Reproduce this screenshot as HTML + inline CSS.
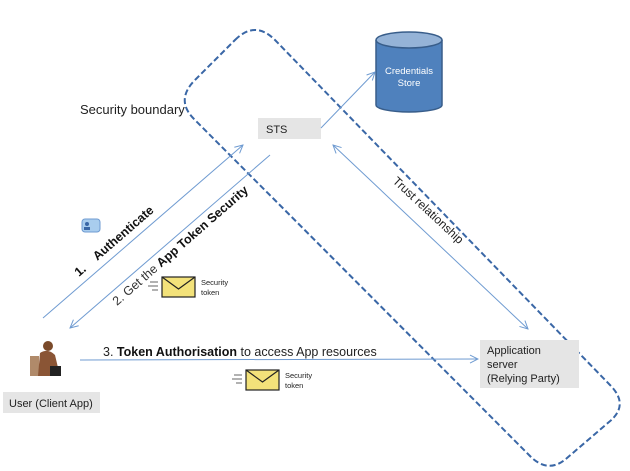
<!DOCTYPE html>
<html><head><style>
html,body{margin:0;padding:0;background:#fff;}
svg{display:block;font-family:"Liberation Sans",sans-serif;}
</style></head><body>
<svg width="630" height="471" viewBox="0 0 630 471" xmlns="http://www.w3.org/2000/svg">
<defs>
<marker id="a" markerWidth="10" markerHeight="10" refX="9" refY="5" orient="auto" markerUnits="userSpaceOnUse">
<path d="M1,1 L9,5 L1,9" fill="none" stroke="#6f9bd1" stroke-width="1"/></marker>
<marker id="as" markerWidth="10" markerHeight="10" refX="1" refY="5" orient="auto" markerUnits="userSpaceOnUse">
<path d="M9,1 L1,5 L9,9" fill="none" stroke="#6f9bd1" stroke-width="1"/></marker>
</defs>
<!-- security boundary -->
<path d="M235,40 Q255,20 275,40 L610,385 Q630,405 609,422 L567,458 Q548,475 529,455 L194,119 Q175,100 195,80 Z" fill="none" stroke="#3a67a6" stroke-width="2" stroke-dasharray="6,3"/>
<text x="80" y="114" font-size="13" fill="#222">Security boundary</text>
<!-- STS -->
<rect x="258" y="118" width="63" height="21" fill="#e5e5e5"/>
<text x="266" y="133" font-size="11" fill="#222">STS</text>
<!-- cylinder -->
<path d="M376,40 L376,105 A33,7 0 0 0 442,105 L442,40" fill="#4f81bd" stroke="#385d8a" stroke-width="1.5"/>
<ellipse cx="409" cy="40" rx="33" ry="8" fill="#95b3d7" stroke="#385d8a" stroke-width="1.5"/>
<text x="409" y="74" font-size="9.5" fill="#fff" text-anchor="middle">Credentials</text>
<text x="409" y="86" font-size="9.5" fill="#fff" text-anchor="middle">Store</text>
<!-- arrows -->
<line x1="321" y1="128" x2="375" y2="72" stroke="#6f9bd1" stroke-width="1" marker-end="url(#a)"/>
<line x1="43" y1="318" x2="243" y2="145" stroke="#6f9bd1" stroke-width="1" marker-end="url(#a)"/>
<line x1="270" y1="155" x2="70" y2="328" stroke="#6f9bd1" stroke-width="1" marker-end="url(#a)"/>
<line x1="333" y1="145" x2="528" y2="329" stroke="#6f9bd1" stroke-width="1" marker-start="url(#as)" marker-end="url(#a)"/>
<line x1="80" y1="360" x2="478" y2="359" stroke="#6f9bd1" stroke-width="1" marker-end="url(#a)"/>
<!-- rotated labels -->
<text transform="translate(79,277) rotate(-41)" font-size="12.5" font-weight="bold" fill="#111">1.&#160;&#160;&#160;&#160;Authenticate</text>
<text transform="translate(117,306) rotate(-41)" font-size="12.5" fill="#333">2. Get the <tspan font-weight="bold" fill="#111">App Token Security</tspan></text>
<text transform="translate(392,182) rotate(43)" font-size="12" fill="#222">Trust relationship</text>
<!-- id card icon -->
<rect x="82" y="219" width="18" height="13" rx="3" fill="#a9cdee" stroke="#6f9bd1"/>
<circle cx="87" cy="224" r="2" fill="#3a67a6"/>
<rect x="84" y="227" width="6" height="3" fill="#3a67a6"/>
<!-- envelopes -->
<g transform="translate(162,277)">
<rect x="0" y="0" width="33" height="20" fill="#f3e27a" stroke="#222" stroke-width="1.2"/>
<path d="M0,0 L16.5,12 L33,0" fill="none" stroke="#222" stroke-width="1.2"/>
<line x1="-12" y1="5" x2="-4" y2="5" stroke="#666"/><line x1="-14" y1="9" x2="-4" y2="9" stroke="#666"/><line x1="-10" y1="13" x2="-4" y2="13" stroke="#666"/>
<text x="39" y="8" font-size="7.5" fill="#222">Security</text><text x="39" y="18" font-size="7.5" fill="#222">token</text>
</g>
<g transform="translate(246,370)">
<rect x="0" y="0" width="33" height="20" fill="#f3e27a" stroke="#222" stroke-width="1.2"/>
<path d="M0,0 L16.5,12 L33,0" fill="none" stroke="#222" stroke-width="1.2"/>
<line x1="-12" y1="5" x2="-4" y2="5" stroke="#666"/><line x1="-14" y1="9" x2="-4" y2="9" stroke="#666"/><line x1="-10" y1="13" x2="-4" y2="13" stroke="#666"/>
<text x="39" y="8" font-size="7.5" fill="#222">Security</text><text x="39" y="18" font-size="7.5" fill="#222">token</text>
</g>
<text x="103" y="356" font-size="12.5" fill="#222">3. <tspan font-weight="bold" fill="#111">Token Authorisation</tspan> to access App resources</text>
<!-- app server -->
<rect x="480" y="340" width="99" height="48" fill="#e5e5e5"/>
<text x="487" y="354" font-size="11" fill="#222">Application</text>
<text x="487" y="368" font-size="11" fill="#222">server</text>
<text x="487" y="382" font-size="11" fill="#222">(Relying Party)</text>
<!-- user -->
<g>
<rect x="30" y="356" width="9" height="20" fill="#b08a6a"/>
<circle cx="48" cy="346" r="5" fill="#7a4a2a"/>
<path d="M40,353 Q48,348 55,355 L60,376 L38,376 Z" fill="#8a5535"/>
<rect x="50" y="366" width="11" height="10" fill="#222"/>
</g>
<rect x="3" y="392" width="97" height="21" fill="#e5e5e5"/>
<text x="9" y="407" font-size="11" fill="#222">User (Client App)</text>
</svg>
</body></html>
